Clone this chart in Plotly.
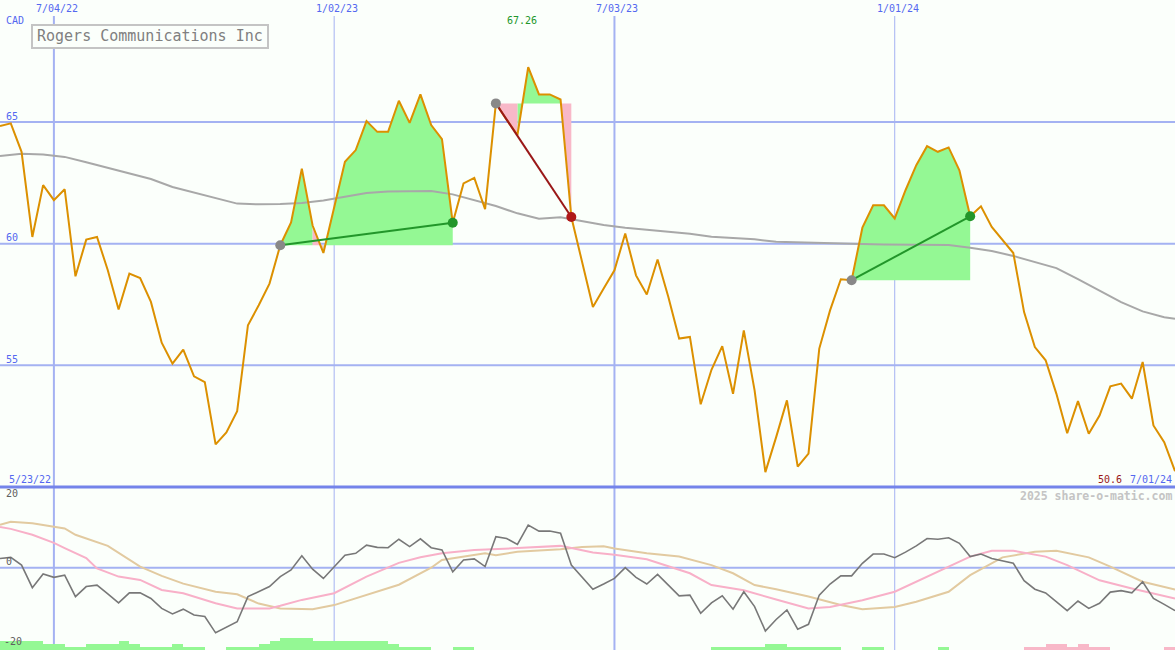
import plotly.graph_objects as go
import pandas as pd

# ---------------- data ----------------
start_date = "2022-05-30"
price = [
    64.84, 64.95, 63.78, 60.28, 62.41, 61.79, 62.24, 58.66, 60.17, 60.28,
    58.91, 57.30, 58.77, 58.59, 57.61, 55.93, 55.07, 55.65, 54.55, 54.31,
    51.75, 52.24, 53.12, 56.65, 57.47, 58.36, 59.94, 60.88, 63.09, 60.75,
    59.62, 61.51, 63.37, 63.85, 65.04, 64.60, 64.60, 65.88, 64.97, 66.14,
    64.88, 64.30, 60.86, 62.48, 62.71, 61.42, 65.77, 65.10, 64.47, 67.26,
    66.14, 66.14, 65.93, 61.10, 59.28, 57.40, 58.16, 58.91, 60.42, 58.70,
    57.91, 59.35, 57.81, 56.10, 56.17, 53.40, 54.82, 55.79, 53.83, 56.44,
    53.97, 50.61, 52.05, 53.56, 50.84, 51.37, 55.69, 57.26, 58.54, 58.50,
    60.66, 61.58, 61.58, 61.04, 62.20, 63.23, 64.01, 63.78, 63.96, 63.02,
    61.13, 61.54, 60.69, 60.14, 59.62, 57.19, 55.75, 55.21, 53.83, 52.21,
    53.53, 52.19, 52.94, 54.14, 54.25, 53.63, 55.14, 52.53, 51.84, 50.65,
]
ma_week = [0, 2, 4, 6, 8, 10, 12, 14, 16, 18, 20, 22, 24, 26, 28, 30, 32, 34, 36, 38,
           40, 42, 44, 46, 48, 50, 52, 54, 56, 58, 60, 62, 64, 66, 68, 70, 72, 74, 76, 78,
           80, 82, 84, 86, 88, 90, 92, 94, 96, 98, 100, 102, 104, 106, 108, 109]
ma_val = [63.61, 63.70, 63.67, 63.57, 63.35, 63.12, 62.86, 62.66, 62.33, 62.10,
          61.86, 61.65, 61.62, 61.63, 61.68, 61.78, 61.93, 62.09, 62.15, 62.17,
          62.17, 62.03, 61.80, 61.55, 61.25, 61.03, 61.09, 60.93, 60.77, 60.66,
          60.58, 60.50, 60.41, 60.29, 60.25, 60.18, 60.08, 60.05, 60.03, 60.01,
          59.99, 59.97, 59.97, 59.98, 59.95, 59.84, 59.70, 59.50, 59.25, 59.00,
          58.55, 58.08, 57.60, 57.22, 56.98, 56.92]
trades = [(26, 42), (46, 53), (79, 90)]

osc = [2.5, 2.8, 0.7, -5.4, -1.7, -2.6, -2.0, -7.8, -5.1, -4.7,
       -7.1, -9.5, -6.8, -6.8, -8.3, -11.0, -12.5, -11.2, -12.8, -13.2,
       -17.6, -16.2, -14.6, -7.8, -6.5, -5.1, -2.4, -0.6, 3.2, -0.4,
       -2.9, 0.3, 3.4, 3.9, 6.1, 5.5, 5.4, 7.7, 5.7, 7.8,
       5.4, 4.8, -1.1, 2.1, 2.4, 0.3, 8.4, 7.9, 6.3, 11.5,
       9.9, 9.9, 9.3, 0.7, -2.6, -5.8, -4.4, -2.9, 0.0, -2.6,
       -4.4, -1.8, -4.7, -7.6, -7.4, -12.3, -9.5, -7.6, -11.2, -6.5,
       -10.5, -17.1, -14.0, -11.4, -16.6, -15.3, -7.4, -4.4, -2.2, -2.2,
       1.2, 3.7, 3.7, 2.7, 4.2, 5.9, 7.9, 7.7, 8.1, 6.6,
       3.0, 3.7, 2.5, 1.9, 1.2, -3.5, -5.8, -6.8, -9.2, -11.6,
       -9.0, -11.0, -9.6, -6.6, -6.2, -6.8, -3.8, -8.3, -9.9, -11.6]
pink_week = [0, 1, 3, 5, 6, 8, 9, 11, 13, 15, 17, 20, 22, 25, 26, 28, 31, 34, 37, 39,
             41, 44, 48, 52, 55, 57, 60, 62, 64, 66, 69, 72, 75, 77, 80, 83, 85, 88, 90, 92,
             94, 97, 99, 102, 105, 109]
pink_val = [11.0, 10.5, 8.9, 6.7, 5.3, 2.6, -0.2, -2.4, -3.3, -6.0, -6.9, -9.6, -11.0, -11.0,
            -10.3, -8.7, -6.9, -2.4, 1.3, 2.8, 3.9, 4.8, 5.3, 5.9, 4.1, 3.5, 2.3, 0.5, -1.5,
            -4.7, -6.1, -8.6, -11.0, -10.6, -8.8, -6.5, -3.8, 0.3, 3.0, 4.6, 4.6, 3.0, 0.7,
            -3.4, -5.6, -8.3]
tan_week = [0, 1, 3, 6, 7, 10, 13, 15, 17, 20, 22, 24, 26, 29, 31, 34, 37, 40, 41, 45,
            46, 48, 52, 54, 56, 57, 60, 63, 66, 68, 70, 72, 75, 78, 80, 83, 85, 88, 90, 93,
            96, 98, 101, 103, 106, 109]
tan_val = [11.6, 12.4, 12.0, 10.6, 8.9, 5.9, 0.3, -2.2, -4.3, -6.5, -7.2, -9.7, -11.0, -11.2,
           -10.1, -7.4, -4.6, 0.0, 2.1, 3.9, 3.4, 4.3, 5.0, 5.6, 5.8, 5.2, 3.9, 3.0, 0.7,
           -1.5, -4.7, -5.8, -7.8, -10.1, -11.2, -10.6, -9.2, -6.5, -2.0, 2.8, 4.3, 4.6,
           2.8, 0.3, -3.8, -5.9]
hist = [3, 3, 3, 3, 2, 2, 1, 1, 2, 2,
        2, 3, 2, 1, 1, 1, 2, 1, 1, 0,
        0, 1, 1, 1, 2, 3, 4, 4, 4, 3,
        3, 3, 3, 3, 3, 3, 2, 1, 1, 1,
        0, 0, 1, 1, 0, 0, 0, 0, 0, 0,
        0, 0, 0, 0, 0, 0, 0, 0, 0, 0,
        0, 0, 0, 0, 0, 0, 1, 1, 1, 1,
        1, 2, 2, 1, 1, 1, 1, 1, 0, 0,
        1, 1, 0, 0, 0, 0, 0, 1, 0, 0,
        0, 0, 0, 0, 0, -1, -1, -2, -2, -1,
        -2, -1, -1, 0, 0, 0, 0, 0, -1, 0]

price_grid = [55, 60, 65]
osc_labels = [20, 0, -20]
vline_dates = ["2022-07-04", "2023-01-02", "2023-07-03", "2024-01-01"]
vline_labels = ["7/04/22", "1/02/23", "7/03/23", "1/01/24"]
vline_widths = [2, 1, 2, 1]
title = "Rogers Communications Inc"
currency = "CAD"
first_label = "5/23/22"
last_label = "7/01/24"
credit = "2025 share-o-matic.com"

# ---------------- style ----------------
W, H = 1175, 650
BG = "#fbfffb"
MONO = "DejaVu Sans Mono"
BLUE = "#5468f0"
GRID = "#a4b2f2"
GREEN_FILL = "#94f894"
PINK_FILL = "#f8b8c8"
ORANGE = "#dc9000"
SPLIT = 487  # pixel row of the panel separator

start = pd.Timestamp(start_date)
dates = [start + pd.Timedelta(weeks=i) for i in range(len(price))]
week = pd.Timedelta(days=7)

fig = go.Figure()

# trade fills
for a, b in trades:
    base = price[a]
    gx, gy, rx, ry = [], [], [], []
    for k in range(a, b):
        xs = [dates[k], dates[k + 1], dates[k + 1], dates[k], dates[k], None]
        ys = [price[k], price[k + 1], base, base, price[k], None]
        if price[k + 1] >= base:
            gx += xs; gy += ys
        else:
            rx += xs; ry += ys
    for xs, ys, col in ((gx, gy, GREEN_FILL), (rx, ry, PINK_FILL)):
        if xs:
            fig.add_trace(go.Scatter(x=xs, y=ys, fill="toself", fillcolor=col, mode="none",
                                     hoverinfo="skip", yaxis="y"))

# moving average
fig.add_trace(go.Scatter(x=[dates[i] for i in ma_week], y=ma_val, mode="lines",
                         line=dict(color="#a8a8a8", width=2), yaxis="y"))
# price
fig.add_trace(go.Scatter(x=dates, y=price, mode="lines", line=dict(color=ORANGE, width=2), yaxis="y"))

# trade lines and markers
for a, b in trades:
    win = price[b] >= price[a]
    lc = "#22962a" if win else "#9a1818"
    mc = "#22962a" if win else "#b01818"
    fig.add_trace(go.Scatter(x=[dates[a], dates[b]], y=[price[a], price[b]], mode="lines",
                             line=dict(color=lc, width=2), yaxis="y"))
    fig.add_trace(go.Scatter(x=[dates[a]], y=[price[a]], mode="markers",
                             marker=dict(color="#888888", size=10), yaxis="y"))
    fig.add_trace(go.Scatter(x=[dates[b]], y=[price[b]], mode="markers",
                             marker=dict(color=mc, size=10), yaxis="y"))

# lower panel histogram
fig.add_trace(go.Bar(x=[d + week / 2 for d in dates], y=[abs(h) for h in hist],
                     width=7 * 24 * 3600 * 1000,
                     marker=dict(color=[GREEN_FILL if h >= 0 else PINK_FILL for h in hist],
                                 line=dict(width=0)),
                     yaxis="y3"))
fig.add_trace(go.Scatter(x=[dates[i] for i in tan_week], y=tan_val, mode="lines",
                         line=dict(color="#e2caa0", width=2), yaxis="y2"))
fig.add_trace(go.Scatter(x=[dates[i] for i in pink_week], y=pink_val, mode="lines",
                         line=dict(color="#f8b0c8", width=2), yaxis="y2"))
fig.add_trace(go.Scatter(x=dates, y=osc, mode="lines",
                         line=dict(color="#787878", width=1.6), yaxis="y2"))

# ---------------- shapes ----------------
shapes = []
for v in price_grid:
    shapes.append(dict(type="line", xref="paper", x0=0, x1=1, yref="y", y0=v, y1=v,
                       line=dict(color=GRID, width=2), layer="below"))
shapes.append(dict(type="line", xref="paper", x0=0, x1=1, yref="y2", y0=0, y1=0,
                   line=dict(color=GRID, width=2), layer="below"))
for d, w in zip(vline_dates, vline_widths):
    shapes.append(dict(type="line", xref="x", x0=d, x1=d, yref="paper", y0=0, y1=1 - 16 / H,
                       line=dict(color=GRID, width=w), layer="below"))
shapes.append(dict(type="line", xref="paper", x0=0, x1=1, yref="paper",
                   y0=1 - SPLIT / H, y1=1 - SPLIT / H,
                   line=dict(color="#7484ea", width=3), layer="above"))
shapes.append(dict(type="rect", xref="paper", yref="paper", x0=32 / W, x1=268 / W,
                   y0=1 - 48 / H, y1=1 - 25 / H, line=dict(color="#c4c4c4", width=2),
                   fillcolor=BG, layer="above"))


def note(text, X, Y, color, size=10, anchor="left", bold=False):
    return dict(text=("<b>%s</b>" % text) if bold else text, x=X / W, y=1 - Y / H,
                xref="paper", yref="paper", xanchor=anchor, yanchor="middle",
                showarrow=False, font=dict(family=MONO, size=size, color=color))


ann = []
for d, lab in zip(vline_dates, vline_labels):
    ann.append(dict(text=lab, x=d, xref="x", y=1 - 8 / H, yref="paper", xanchor="center",
                    yanchor="middle", showarrow=False, xshift=3,
                    font=dict(family=MONO, size=10, color=BLUE)))
for v in price_grid:
    ann.append(dict(text=str(v), x=4 / W, xref="paper", y=v, yref="y", xanchor="left",
                    yanchor="middle", yshift=6, showarrow=False,
                    font=dict(family=MONO, size=10, color=BLUE)))
for v in osc_labels:
    ann.append(dict(text=str(v), x=(2 if v < 0 else 4) / W, xref="paper", y=v, yref="y2",
                    xanchor="left", yanchor="middle", yshift=6 if v == 0 else 0,
                    showarrow=False, font=dict(family=MONO, size=10, color="#606060")))
ann.append(note(currency, 4, 20, BLUE))
ann.append(note(title, 35, 36.5, "#808080", size=15))
imax = max(range(len(price)), key=lambda i: price[i])
ann.append(dict(text="%.2f" % price[imax], x=dates[imax], xref="x", y=1 - 20 / H, yref="paper",
                xanchor="center", yanchor="middle", showarrow=False, xshift=-6,
                font=dict(family=MONO, size=10, color="#22962a")))
ann.append(note(first_label, 7, 479, BLUE))
ann.append(note(last_label, 1174, 479, BLUE, anchor="right"))
ann.append(note("%.1f" % min(price), 1124, 479, "#9a1818", anchor="right"))
ann.append(note(credit, 1174, 496, "#c4c4c4", size=11.5, anchor="right", bold=True))

fig.update_layout(
    width=W, height=H, margin=dict(l=0, r=0, t=0, b=0),
    paper_bgcolor=BG, plot_bgcolor=BG, showlegend=False, bargap=0,
    shapes=shapes, annotations=ann,
    xaxis=dict(type="date", range=[dates[0], dates[-1]], visible=False, domain=[0, 1]),
    yaxis=dict(range=[50, 70.02], domain=[1 - 487 / H, 1], visible=False),
    yaxis2=dict(range=[-22.24, 21.68], domain=[0, 1 - 487.5 / H], visible=False, anchor="x"),
    yaxis3=dict(range=[0, 54], domain=[0, 1 - 487.5 / H], visible=False, overlaying="y2",
                anchor="x"),
)
fig.write_html("out.html", config={"displayModeBar": False},
               post_script="document.body.style.margin='0';document.body.style.overflow='hidden';"
                           "document.body.style.background='%s';" % BG)
